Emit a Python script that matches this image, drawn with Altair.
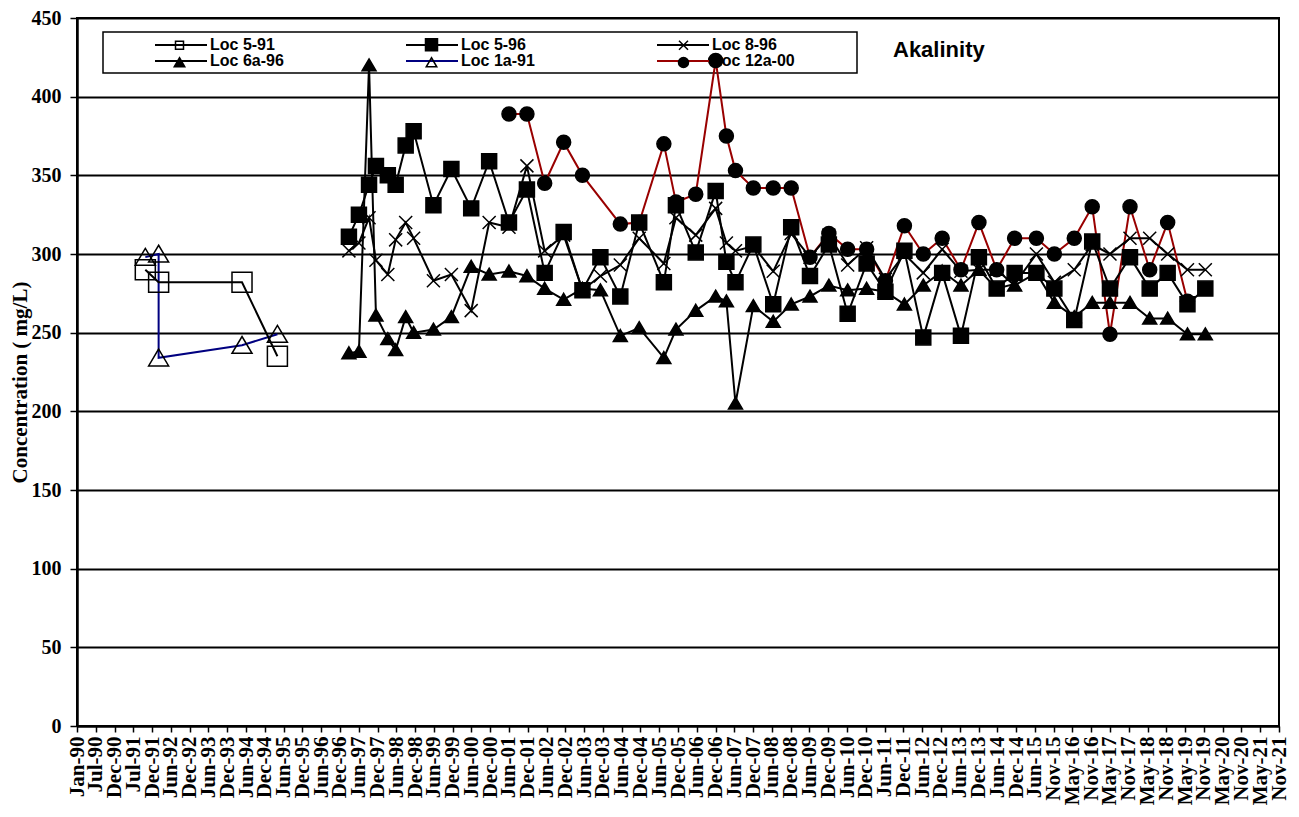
import altair as alt
import pandas as pd

# ---------------- data ----------------
SERIES_NAMES = ["Loc 5-91", "Loc 5-96", "Loc 8-96", "Loc 6a-96", "Loc 1a-91", "Loc 12a-00"]
LINE_COLORS = ["#000000", "#000000", "#000000", "#000000", "#000080", "#990000"]

LOC_5_91_DATES = ["1991-10-25", "1992-03-02", "1994-05-19", "1995-04-27"]
LOC_5_91_VALUES = [290, 282, 282, 235]

LOC_1A_91_DATES = ["1991-10-25", "1992-03-02", "1992-03-02", "1994-05-19", "1995-04-27"]
LOC_1A_91_VALUES = [298, 300, 234, 242, 249]

SAMPLE_DATES_96 = [
    "1997-03-20", "1997-06-25", "1997-10-01", "1997-12-07", "1998-04-01",
    "1998-06-16", "1998-09-21", "1998-12-07", "1999-06-17", "1999-12-08",
    "2000-06-17", "2000-12-08", "2001-06-18", "2001-12-09", "2002-05-30",
    "2002-11-30", "2003-05-31", "2003-11-21", "2004-06-01", "2004-12-01",
    "2005-07-28", "2005-11-22", "2006-06-02", "2006-12-12", "2007-03-26",
    "2007-06-22", "2007-12-12", "2008-06-22", "2008-12-13", "2009-06-13",
    "2009-12-13", "2010-06-13", "2010-12-14", "2011-06-14", "2011-12-15",
    "2012-06-15", "2012-12-15", "2013-06-15", "2013-12-06", "2014-05-27",
    "2014-11-17", "2015-06-16", "2015-12-07", "2016-06-17", "2016-12-08",
    "2017-05-29", "2017-12-09", "2018-06-18", "2018-12-09", "2019-06-19",
    "2019-12-09",
]

LOC_5_96_VALUES = [
    311, 325, 344, 356, 350, 344, 369, 378, 331, 354,
    329, 359, 320, 341, 288, 314, 277, 298, 273, 320,
    282, 331, 301, 340, 295, 282, 306, 268, 317, 286,
    306, 262, 294, 276, 302, 247, 288, 248, 298, 278,
    288, 288, 278, 258, 308, 278, 298, 278, 288, 268,
    278,
]

LOC_8_96_VALUES = [
    302, 307, 323, 296, 287, 309, 320, 310, 283, 287,
    264, 320, 317, 356, 302, 312, 277, 286, 293, 310,
    294, 323, 312, 329, 307, 302, 305, 289, 313, 298,
    312, 293, 304, 284, 300, 288, 303, 289, 290, 278,
    281, 300, 282, 290, 306, 300, 310, 310, 300, 290,
    290,
]

LOC_6A_96_VALUES = [
    237, 238, 420, 261, 246, 239, 260, 250, 252, 260,
    292, 287, 289, 286, 278, 271, 278, 277, 248, 253,
    234, 252, 264, 273, 270, 205, 267, 257, 268, 273,
    280, 277, 278, 276, 268, 280, 289, 280, 290, 290,
    280, 288, 269, 260, 269, 269, 269, 259, 259, 249,
    249,
]

LOC_12A_00_DATES = [
    "2001-06-18", "2001-12-09", "2002-05-30", "2002-11-30", "2003-05-31",
    "2004-06-01", "2004-12-01", "2005-07-28", "2005-11-22", "2006-06-02",
    "2006-12-12", "2007-03-26", "2007-06-22", "2007-12-12", "2008-06-22",
    "2008-12-13", "2009-06-13", "2009-12-13", "2010-06-13", "2010-12-14",
    "2011-06-14", "2011-12-15", "2012-06-15", "2012-12-15", "2013-06-15",
    "2013-12-06", "2014-05-27", "2014-11-17", "2015-06-16", "2015-12-07",
    "2016-06-17", "2016-12-08", "2017-05-29", "2017-12-09", "2018-06-18",
    "2018-12-09", "2019-06-19",
]
LOC_12A_00_VALUES = [
    389, 389, 345, 371, 350, 319, 320, 370, 333, 338,
    423, 375, 353, 342, 342, 342, 298, 313, 303, 303,
    283, 318, 300, 310, 290, 320, 290, 310, 310, 300,
    310, 330, 249, 330, 290, 320, 270,
]

# x-axis ticks: every 182 days starting Jan 1 1990 (Excel style), 65 ticks
TICK_START = "1990-01-01"
TICK_STEP_DAYS = 182
TICK_COUNT = 65
Y_TICKS = [0, 50, 100, 150, 200, 250, 300, 350, 400, 450]

# ---------------- styles ----------------
MARKER_PATHS = [
    "M-1.43,-1.43H1.43V1.43H-1.43Z",                 # open square (big)
    "M-1.07,-1.07H1.07V1.07H-1.07Z",                 # filled square
    "M-0.93,-0.93L0.93,0.93M-0.93,0.93L0.93,-0.93",  # x
    "M0,-0.9L1,0.8H-1Z",                             # filled triangle
    "M0,-1.25L1.43,1.15H-1.43Z",                     # open triangle (big)
    "circle",                                         # filled circle
]
MARKER_FILLS = ["transparent", "black", "transparent", "black", "transparent", "black"]
MARKER_STROKES = ["black"] * 6

LEGEND_PATHS = [
    "M-0.8,-0.8H0.8V0.8H-0.8Z",
    "M-1.2,-1.2H1.2V1.2H-1.2Z",
    "M-0.9,-0.9L0.9,0.9M-0.9,0.9L0.9,-0.9",
    "M0,-0.95L1.05,0.85H-1.05Z",
    "M0,-0.95L1.05,0.85H-1.05Z",
    "circle",
]
LEGEND_LINE_PATH = "M-1.2,0H9.2"   # 52 px long line starting at the entry origin (unit = 5 px)

# ---------------- build table ----------------
rows = []
def add(name, dates, values):
    for i, (d, v) in enumerate(zip(dates, values)):
        rows.append({"series": name, "date": d, "value": v, "idx": i})

add("Loc 12a-00", LOC_12A_00_DATES, LOC_12A_00_VALUES)
add("Loc 1a-91", LOC_1A_91_DATES, LOC_1A_91_VALUES)
add("Loc 6a-96", SAMPLE_DATES_96, LOC_6A_96_VALUES)
add("Loc 8-96", SAMPLE_DATES_96, LOC_8_96_VALUES)
add("Loc 5-91", LOC_5_91_DATES, LOC_5_91_VALUES)
add("Loc 5-96", SAMPLE_DATES_96, LOC_5_96_VALUES)
df = pd.DataFrame(rows)

t0 = pd.Timestamp(TICK_START)
tick_ms = [int((t0 + pd.Timedelta(days=TICK_STEP_DAYS * i)).value // 10**6) for i in range(TICK_COUNT)]

xscale = alt.Scale(type="utc", domain=[tick_ms[0], tick_ms[-1]], nice=False)
yscale = alt.Scale(domain=[0, 450], nice=False, zero=True)

xaxis = alt.Axis(
    values=tick_ms, labelExpr="utcFormat(datum.value, '%b-%y')",
    labelAngle=270, labelAlign="right", labelBaseline="middle",
    labelFont="Liberation Serif", labelFontWeight="bold", labelFontSize=21,
    labelColor="black", labelPadding=4, labelOverlap=False, labelFlush=False,
    labelBound=False, labelSeparation=0, tickSize=6, tickColor="black", tickWidth=1.5,
    domainColor="black", domainWidth=2, grid=False, title=None,
)
yaxis = alt.Axis(
    values=Y_TICKS, grid=True, gridColor="black", gridWidth=2, gridOpacity=1,
    tickSize=7, tickColor="black", tickWidth=1.5, domainColor="black", domainWidth=2.5,
    labelFont="Liberation Serif", labelFontWeight="bold", labelFontSize=20,
    labelColor="black", labelPadding=9,
    title="Concentration ( mg/L)", titleFont="Liberation Serif", titleFontWeight="bold",
    titleFontSize=21, titleColor="black", titlePadding=1, titleY=364,
)

legend_lines = alt.Legend(
    title=None, orient="none", direction="horizontal", legendX=76, legendY=19,
    columns=3, gridAlign="all", padding=0,
    symbolType=LEGEND_LINE_PATH, symbolSize=100, symbolStrokeWidth=2,
    labelFont="Liberation Sans", labelFontWeight="bold", labelFontSize=16,
    labelColor="black", labelOffset=41, columnPadding=109, rowPadding=0,
)
legend_marks = alt.Legend(
    title=None, orient="none", direction="horizontal", legendX=95, legendY=19,
    columns=3, gridAlign="all", padding=0,
    symbolSize=100, symbolStrokeWidth=1.5,
    labelExpr="' '", labelFontSize=15, labelOffset=0, columnPadding=233, rowPadding=0,
)

box = alt.Chart(pd.DataFrame({"k": [0]})).mark_rect(
    fill="white", stroke="black", strokeWidth=1.5
).encode(x=alt.value(26), x2=alt.value(780), y=alt.value(14), y2=alt.value(55))

lines = alt.Chart(df).mark_line(strokeWidth=2).encode(
    x=alt.X("date:T", scale=xscale, axis=xaxis),
    y=alt.Y("value:Q", scale=yscale, axis=yaxis),
    stroke=alt.Stroke("series:N", sort=SERIES_NAMES, scale=alt.Scale(range=LINE_COLORS), legend=legend_lines),
    order=alt.Order("idx:Q"),
)

points = alt.Chart(df).mark_point(
    filled=True, opacity=1, stroke="black", strokeWidth=1.5, size=196
).encode(
    x=alt.X("date:T", scale=xscale, axis=xaxis),
    y=alt.Y("value:Q", scale=yscale, axis=yaxis),
    shape=alt.Shape("series:N", sort=SERIES_NAMES, scale=alt.Scale(range=MARKER_PATHS), legend=None),
    fill=alt.Fill("series:N", sort=SERIES_NAMES, scale=alt.Scale(range=MARKER_FILLS), legend=None),
)

legend_pts = alt.Chart(pd.DataFrame({"leg": SERIES_NAMES})).transform_filter("false").mark_point(
    filled=True, opacity=1, strokeWidth=1.5
).encode(
    shape=alt.Shape("leg:N", scale=alt.Scale(domain=SERIES_NAMES, range=LEGEND_PATHS), legend=legend_marks),
    fill=alt.Fill("leg:N", scale=alt.Scale(domain=SERIES_NAMES, range=MARKER_FILLS), legend=legend_marks),
    stroke=alt.Stroke("leg:N", scale=alt.Scale(domain=SERIES_NAMES, range=MARKER_STROKES), legend=legend_marks),
)

label = alt.Chart(pd.DataFrame({"t": ["Akalinity"]})).mark_text(
    align="left", baseline="middle", font="Liberation Sans", fontWeight="bold",
    fontSize=22, color="black"
).encode(x=alt.value(816), y=alt.value(32), text="t:N")

chart = alt.layer(box, lines, points, legend_pts, label).resolve_scale(
    shape="independent", fill="independent", stroke="independent"
).properties(
    width=1202, height=708,
    autosize=alt.AutoSizeParams(type="none"),
    padding={"left": 69, "top": 10, "right": 12, "bottom": 79},
    background="white",
).configure_view(
    stroke="black", strokeWidth=2
).configure_axisX(labelOverlap=False)

chart.save("out.html", embed_options={"renderer": "svg", "actions": False})
